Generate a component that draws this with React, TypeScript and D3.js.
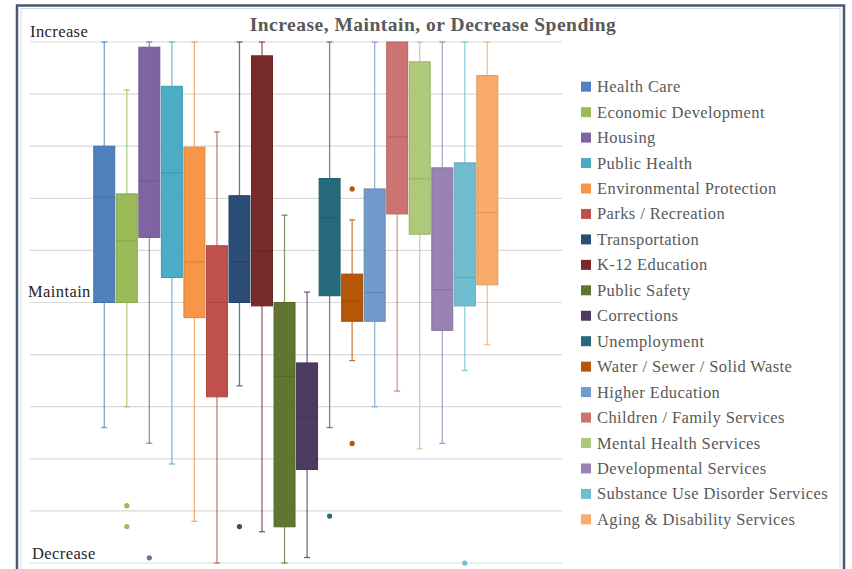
import React from "react";
import * as d3 from "d3";

const categories = [
  "Health Care", "Economic Development", "Housing", "Public Health", "Environmental Protection",
  "Parks / Recreation", "Transportation", "K-12 Education", "Public Safety", "Corrections",
  "Unemployment", "Water / Sewer / Solid Waste", "Higher Education", "Children / Family Services",
  "Mental Health Services", "Developmental Services", "Substance Use Disorder Services", "Aging & Disability Services",
];
const colors = [
  "#4F81BD", "#9BBB59", "#8064A2", "#4BACC6", "#F79646", "#C0504D", "#2C4D75", "#772C2A", "#5F7530",
  "#4D3B62", "#276A7C", "#B65708", "#729ACA", "#CD7371", "#AFC97A", "#9983B5", "#6FBDD1", "#F9AB6B",
];
const whiskerHigh = [1.0, 0.816, 1.0, 1.0, 1.0, 0.655, 1.0, 1.0, 0.335, 0.04, 1.0, 0.317, 1.0, 1.0, 1.0, 1.0, 1.0, 1.0];
const q3 = [0.60, 0.417, 0.98, 0.83, 0.596, 0.218, 0.41, 0.947, 0.0, -0.232, 0.476, 0.109, 0.436, 1.0, 0.924, 0.517, 0.536, 0.871];
const median = [0.405, 0.237, 0.467, 0.498, 0.156, 0.0, 0.156, 0.197, -0.283, -0.441, 0.326, 0.006, 0.038, 0.636, 0.475, 0.049, 0.096, 0.345];
const q1 = [0.0, 0.0, 0.25, 0.096, -0.058, -0.362, 0.0, -0.013, -0.861, -0.641, 0.026, -0.072, -0.072, 0.34, 0.262, -0.107, -0.013, 0.068];
const whiskerLow = [-0.48, -0.40, -0.54, -0.62, -0.84, -1.0, -0.32, -0.88, -1.0, -0.979, -0.48, -0.223, -0.40, -0.34, -0.562, -0.541, -0.261, -0.162];
const outlierSeries = [1, 1, 2, 6, 10, 11, 11, 16];
const outlierValues = [-0.78, -0.86, -0.98, -0.86, -0.82, 0.436, -0.541, -1.0];
const yTicks = d3.range(-1, 1.0001, 0.2);
const axisLabels = ["Increase", "Maintain", "Decrease"];
const axisLabelValues = [1, 0, -1];

const W = 852;
const H = 569;

export default function App() {
  const y = d3.scaleLinear().domain([-1, 1]).range([563, 42]);
  const x = d3.scaleBand<string>().domain(categories).range([93, 498.6]).paddingInner(0.07).paddingOuter(0.035);
  const bw = x.bandwidth();
  const capW = 6;
  const serif = "'Liberation Serif', 'DejaVu Serif', serif";
  const labelX = [30, 28, 32];
  const labelDy = [-5, -6, -4];

  return (
    <svg width={W} height={H} style={{ position: "absolute", left: 0, top: 0, background: "#fff" }}>
      <rect x={0} y={0} width={W} height={H} fill="#fff" />
      {/* frame */}
      <rect x={17} y={5.5} width={827} height={H + 10} fill="none" stroke="#4A5872" strokeWidth={2.5} />
      <rect x={21} y={8.5} width={819} height={H + 10} fill="none" stroke="#D6DAE0" strokeWidth={1} />
      {/* gridlines */}
      {yTicks.map((t, i) => (
        <line key={i} x1={30} x2={562} y1={y(t)} y2={y(t)} stroke="#D9D9D9" strokeWidth={1.2} />
      ))}
      {/* title */}
      <text x={433} y={31} textAnchor="middle" fontFamily={serif} fontWeight="bold" fontSize={19.5} letterSpacing={0.5} fill="#595959">
        Increase, Maintain, or Decrease Spending
      </text>
      {/* axis labels */}
      {axisLabels.map((l, i) => (
        <text key={l} x={labelX[i]} y={y(axisLabelValues[i]) + labelDy[i]} fontFamily={serif} fontSize={16.5} letterSpacing={0.4} fill="#262626">
          {l}
        </text>
      ))}
      {/* boxes */}
      {categories.map((c, i) => {
        const x0 = x(c)!;
        const cx = x0 + bw / 2;
        const col = colors[i];
        const dark = d3.color(col)!.darker(0.35).formatHex();
        return (
          <g key={c}>
            <line x1={cx} x2={cx} y1={y(whiskerHigh[i])} y2={y(q3[i])} stroke={col} strokeOpacity={0.75} strokeWidth={1.3} />
            <line x1={cx} x2={cx} y1={y(q1[i])} y2={y(whiskerLow[i])} stroke={col} strokeOpacity={0.75} strokeWidth={1.3} />
            {whiskerHigh[i] > q3[i] && (
              <line x1={cx - capW / 2} x2={cx + capW / 2} y1={y(whiskerHigh[i])} y2={y(whiskerHigh[i])} stroke={col} strokeOpacity={0.8} strokeWidth={1.3} />
            )}
            {whiskerLow[i] < q1[i] && (
              <line x1={cx - capW / 2} x2={cx + capW / 2} y1={y(whiskerLow[i])} y2={y(whiskerLow[i])} stroke={col} strokeOpacity={0.8} strokeWidth={1.3} />
            )}
            <rect x={x0} y={y(q3[i])} width={bw} height={Math.max(0.5, y(q1[i]) - y(q3[i]))} fill={col} stroke={dark} strokeWidth={1} />
            <line x1={x0} x2={x0 + bw} y1={y(median[i])} y2={y(median[i])} stroke={dark} strokeWidth={1.2} />
          </g>
        );
      })}
      {/* outliers */}
      {outlierSeries.map((s, k) => (
        <circle key={k} cx={x(categories[s])! + bw / 2} cy={y(outlierValues[k])} r={2.6} fill={colors[s]} />
      ))}
      {/* legend */}
      {categories.map((c, i) => {
        const ly = 86.7 + i * 25.45;
        return (
          <g key={c}>
            <rect x={581} y={ly - 5} width={10} height={10} fill={colors[i]} />
            <text x={597} y={ly + 5.5} fontFamily={serif} fontSize={16.5} letterSpacing={0.4} fill="#595959">
              {c}
            </text>
          </g>
        );
      })}
    </svg>
  );
}
